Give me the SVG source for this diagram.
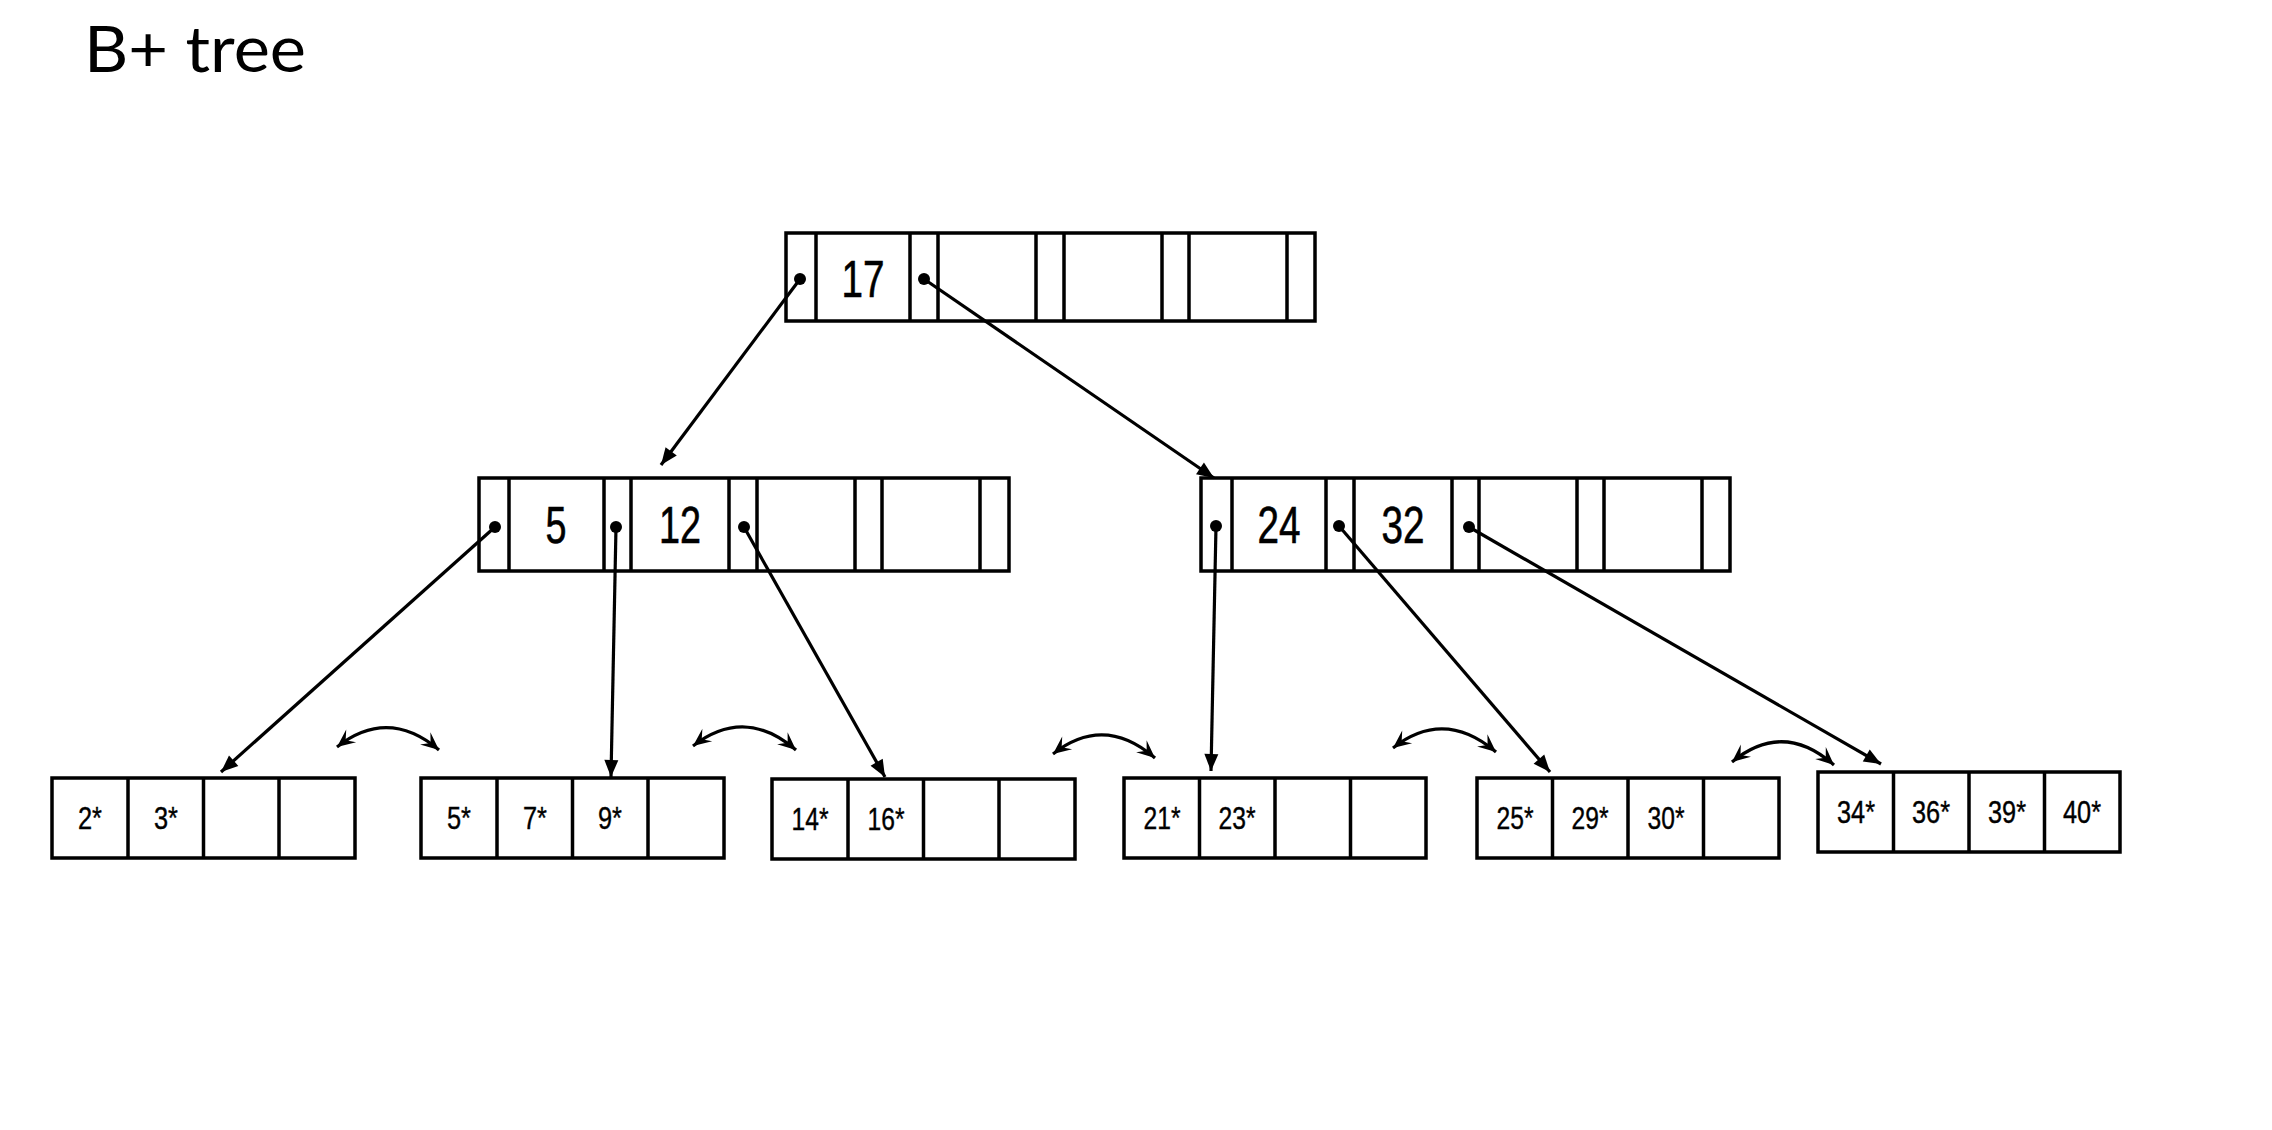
<svg xmlns="http://www.w3.org/2000/svg" width="2272" height="1130" viewBox="0 0 2272 1130">
<style>
.box{fill:#fff;stroke:#000;stroke-width:3.5}
.dv{stroke:#000;stroke-width:3.5;fill:none}
.key{font-family:"Liberation Sans Narrow","Liberation Sans",Arial,sans-serif;font-size:51px;text-anchor:middle;fill:#000;stroke:#000;stroke-width:0.6}
.lf{font-family:"Liberation Sans Narrow","Liberation Sans",Arial,sans-serif;font-size:31px;text-anchor:middle;fill:#000;stroke:#000;stroke-width:0.4}
.dot{fill:#000}
.con{stroke:#000;stroke-width:3.2;fill:none;marker-end:url(#ah)}
.sib{stroke:#000;stroke-width:3.2;fill:none;marker-start:url(#st);marker-end:url(#st)}
.title{font-family:"Lato","Open Sans",sans-serif;font-size:63px;fill:#000}
</style>
<defs>
<marker id="ah" markerUnits="userSpaceOnUse" markerWidth="20" markerHeight="16" viewBox="-18 -8 20 16" refX="0" refY="0" orient="auto"><path d="M0,0 L-17,-7 L-17,7 Z" fill="#000"/></marker>
<marker id="st" markerUnits="userSpaceOnUse" markerWidth="22" markerHeight="20" viewBox="-20 -10 22 20" refX="0" refY="0" orient="auto-start-reverse"><path d="M0,0 L-18,-8 L-11,0 L-18,8 Z" fill="#000"/></marker>
</defs>
<rect width="2272" height="1130" fill="#fff"/>
<text class="title" x="84" y="72" textLength="222" lengthAdjust="spacingAndGlyphs">B+ tree</text>

<g id="root">
<rect class="box" x="786" y="233" width="529" height="88"/>
<path class="dv" d="M816,233V321M910,233V321M938,233V321M1036,233V321M1064,233V321M1162,233V321M1189,233V321M1287,233V321"/>
<text class="key" x="863" y="297" textLength="43" lengthAdjust="spacingAndGlyphs">17</text>
</g>

<g id="inner-left">
<rect class="box" x="479" y="478" width="530" height="93"/>
<path class="dv" d="M509,478V571M604,478V571M631,478V571M729,478V571M757,478V571M855,478V571M882,478V571M980,478V571"/>
<text class="key" x="556" y="543" textLength="21" lengthAdjust="spacingAndGlyphs">5</text>
<text class="key" x="680" y="543" textLength="42" lengthAdjust="spacingAndGlyphs">12</text>
</g>

<g id="inner-right">
<rect class="box" x="1201" y="478" width="529" height="93"/>
<path class="dv" d="M1232,478V571M1326,478V571M1354,478V571M1452,478V571M1479,478V571M1577,478V571M1604,478V571M1702,478V571"/>
<text class="key" x="1279" y="543" textLength="43" lengthAdjust="spacingAndGlyphs">24</text>
<text class="key" x="1403" y="543" textLength="43" lengthAdjust="spacingAndGlyphs">32</text>
</g>

<g id="leaf1">
<rect class="box" x="52" y="778" width="303" height="80"/>
<path class="dv" d="M128,778V858M203.5,778V858M279,778V858"/>
<text class="lf" x="90" y="829" textLength="24" lengthAdjust="spacingAndGlyphs">2*</text>
<text class="lf" x="166" y="829" textLength="24" lengthAdjust="spacingAndGlyphs">3*</text>
</g>

<g id="leaf2">
<rect class="box" x="421" y="778" width="303" height="80"/>
<path class="dv" d="M497,778V858M572.5,778V858M648,778V858"/>
<text class="lf" x="459" y="829" textLength="24" lengthAdjust="spacingAndGlyphs">5*</text>
<text class="lf" x="535" y="829" textLength="24" lengthAdjust="spacingAndGlyphs">7*</text>
<text class="lf" x="610" y="829" textLength="24" lengthAdjust="spacingAndGlyphs">9*</text>
</g>

<g id="leaf3">
<rect class="box" x="772" y="779" width="303" height="80"/>
<path class="dv" d="M848,779V859M923.5,779V859M999,779V859"/>
<text class="lf" x="810" y="830" textLength="37" lengthAdjust="spacingAndGlyphs">14*</text>
<text class="lf" x="886" y="830" textLength="37" lengthAdjust="spacingAndGlyphs">16*</text>
</g>

<g id="leaf4">
<rect class="box" x="1124" y="778" width="302" height="80"/>
<path class="dv" d="M1199.5,778V858M1275,778V858M1350.5,778V858"/>
<text class="lf" x="1162" y="829" textLength="37" lengthAdjust="spacingAndGlyphs">21*</text>
<text class="lf" x="1237" y="829" textLength="37" lengthAdjust="spacingAndGlyphs">23*</text>
</g>

<g id="leaf5">
<rect class="box" x="1477" y="778" width="302" height="80"/>
<path class="dv" d="M1552.5,778V858M1628,778V858M1703.5,778V858"/>
<text class="lf" x="1515" y="829" textLength="37" lengthAdjust="spacingAndGlyphs">25*</text>
<text class="lf" x="1590" y="829" textLength="37" lengthAdjust="spacingAndGlyphs">29*</text>
<text class="lf" x="1666" y="829" textLength="37" lengthAdjust="spacingAndGlyphs">30*</text>
</g>

<g id="leaf6">
<rect class="box" x="1818" y="772" width="302" height="80"/>
<path class="dv" d="M1893.5,772V852M1969,772V852M2044.5,772V852"/>
<text class="lf" x="1856" y="823" textLength="38" lengthAdjust="spacingAndGlyphs">34*</text>
<text class="lf" x="1931" y="823" textLength="38" lengthAdjust="spacingAndGlyphs">36*</text>
<text class="lf" x="2007" y="823" textLength="38" lengthAdjust="spacingAndGlyphs">39*</text>
<text class="lf" x="2082" y="823" textLength="38" lengthAdjust="spacingAndGlyphs">40*</text>
</g>

<g id="connectors">
<path class="con" d="M800,279L661,465"/>
<path class="con" d="M924,279L1214,478"/>
<path class="con" d="M495,527L221,772"/>
<path class="con" d="M616,527L611,777"/>
<path class="con" d="M744,527L885,777"/>
<path class="con" d="M1216,526L1211,771"/>
<path class="con" d="M1339,526L1550,772"/>
<path class="con" d="M1469,527L1881,764"/>
<circle class="dot" cx="800" cy="279" r="6"/>
<circle class="dot" cx="924" cy="279" r="6"/>
<circle class="dot" cx="495" cy="527" r="6"/>
<circle class="dot" cx="616" cy="527" r="6"/>
<circle class="dot" cx="744" cy="527" r="6"/>
<circle class="dot" cx="1216" cy="526" r="6"/>
<circle class="dot" cx="1339" cy="526" r="6"/>
<circle class="dot" cx="1469" cy="527" r="6"/>
<path class="sib" d="M337,747Q388,707 439,750"/>
<path class="sib" d="M693,746Q745,706 796,750"/>
<path class="sib" d="M1053,754Q1104,714 1155,758"/>
<path class="sib" d="M1393,748Q1444,708 1496,752"/>
<path class="sib" d="M1732,762Q1783,720 1834,765"/>
</g>
</svg>
